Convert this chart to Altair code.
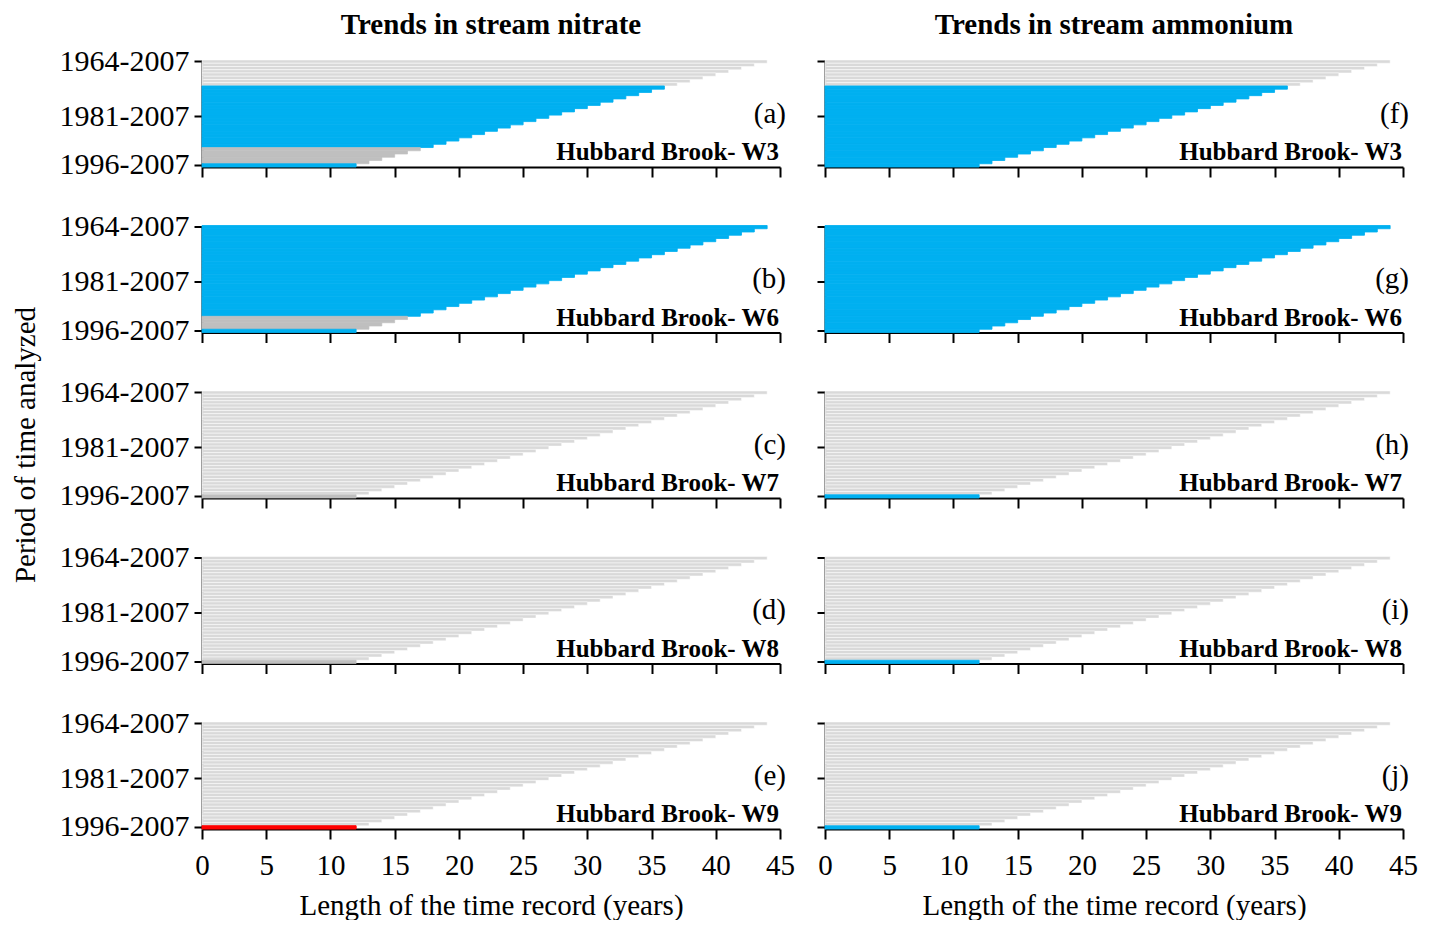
import altair as alt
import pandas as pd

# ---------------- data ----------------
start_years = [1964, 1965, 1966, 1967, 1968, 1969, 1970, 1971, 1972, 1973, 1974,
               1975, 1976, 1977, 1978, 1979, 1980, 1981, 1982, 1983, 1984, 1985,
               1986, 1987, 1988, 1989, 1990, 1991, 1992, 1993, 1994, 1995, 1996]
record_lengths = [44, 43, 42, 41, 40, 39, 38, 37, 36, 35, 34,
                  33, 32, 31, 30, 29, 28, 27, 26, 25, 24, 23,
                  22, 21, 20, 19, 18, 17, 16, 15, 14, 13, 12]
periods = [f"{y}-2007" for y in start_years]
ytick_periods = ["1964-2007", "1981-2007", "1996-2007"]
x_ticks = [0, 5, 10, 15, 20, 25, 30, 35, 40, 45]

# trend class for each period (top = 1964-2007 ... bottom = 1996-2007)
# L = no trend (light grey), D = no trend (dark grey), B = decreasing (blue), R = increasing (red)
code_domain = ["L", "D", "B", "R"]
fill_colors = ["#D9D9D9", "#BFBFBF", "#00B0F0", "#FF0000"]
stroke_colors = ["#FFFFFF", "#BFBFBF", "#00B0F0", "#FF0000"]
stroke_widths = [0.5, 1.0, 1.0, 1.0]

nitrate_codes = [
    "LLLLLLLL" "BBBBBBBBBBBBBBBBBBB" "DDDDD" "B",          # W3 (a)
    "BBBBBBBBBBBBBBBBBBBBBBBBBBBB" "DDDD" "B",             # W6 (b)
    "LLLLLLLL" "LLLLLLLL" "LLLLLLLL" "LLLLLLLL" "D",        # W7 (c)
    "LLLLLLLL" "LLLLLLLL" "LLLLLLLL" "LLLLLLLL" "D",        # W8 (d)
    "LLLLLLLL" "LLLLLLLL" "LLLLLLLL" "LLLLLLLL" "R",        # W9 (e)
]
ammonium_codes = [
    "LLLLLLLL" "BBBBBBBBBBBBBBBBBBBBBBBBB",                 # W3 (f)
    "BBBBBBBBBBBBBBBBBBBBBBBBBBBBBBBBB",                    # W6 (g)
    "LLLLLLLL" "LLLLLLLL" "LLLLLLLL" "LLLLLLLL" "B",        # W7 (h)
    "LLLLLLLL" "LLLLLLLL" "LLLLLLLL" "LLLLLLLL" "B",        # W8 (i)
    "LLLLLLLL" "LLLLLLLL" "LLLLLLLL" "LLLLLLLL" "B",        # W9 (j)
]
sites = ["Hubbard Brook- W3", "Hubbard Brook- W6", "Hubbard Brook- W7",
         "Hubbard Brook- W8", "Hubbard Brook- W9"]
nitrate_letters = ["(a)", "(b)", "(c)", "(d)", "(e)"]
ammonium_letters = ["(f)", "(g)", "(h)", "(i)", "(j)"]
column_titles = ["Trends in stream nitrate", "Trends in stream ammonium"]

SERIF = "Liberation Serif"
PW, PH = 578, 107


def make_panel(col, row, codes, letter, site):
    assert len(codes) == len(periods)
    df = pd.DataFrame({"period": periods, "length": record_lengths, "code": list(codes)})
    left = col == 0
    bottom = row == 4

    yaxis = dict(values=ytick_periods, labels=left, ticks=True, tickSize=8, tickWidth=2,
                 tickColor="black", domain=True, domainColor="black", domainWidth=2,
                 labelFontSize=30, labelPadding=5, labelColor="black", grid=False,
                 labelFont=SERIF)
    if left and row == 2:
        yaxis.update(title="Period of time analyzed", titleFontSize=29, titlePadding=19,
                     titleFontWeight="normal", titleColor="black", titleFont=SERIF)
    else:
        yaxis["title"] = None

    xaxis = dict(values=x_ticks, labels=bottom, ticks=True, tickSize=10, tickWidth=2,
                 tickColor="black", domain=True, domainColor="black", domainWidth=2,
                 labelFontSize=29, labelPadding=12, labelColor="black", grid=False,
                 labelFont=SERIF, labelFlush=False)
    if bottom:
        xaxis.update(title="Length of the time record (years)", titleFontSize=29,
                     titlePadding=11, titleFontWeight="normal", titleColor="black",
                     titleFont=SERIF)
    else:
        xaxis["title"] = None

    x_enc = alt.X("length:Q", scale=alt.Scale(domain=[0, 45], nice=False, zero=True),
                  axis=alt.Axis(**xaxis))
    y_enc = alt.Y("period:N", sort=periods,
                  scale=alt.Scale(domain=periods, paddingInner=0, paddingOuter=0),
                  axis=alt.Axis(**yaxis))

    bars = alt.Chart(df).mark_bar().encode(
        x=x_enc,
        y=y_enc,
        color=alt.Color("code:N", scale=alt.Scale(domain=code_domain, range=fill_colors), legend=None),
        stroke=alt.Stroke("code:N", scale=alt.Scale(domain=code_domain, range=stroke_colors), legend=None),
        strokeWidth=alt.StrokeWidth("code:N", scale=alt.Scale(domain=code_domain, range=stroke_widths), legend=None),
    )

    letter_df = pd.DataFrame({"label": [letter], "length": [45], "period": [periods[16]]})
    letter_txt = alt.Chart(letter_df).mark_text(
        align="right", baseline="middle", dx=6, font=SERIF, fontSize=29, color="black"
    ).encode(x=x_enc, y=y_enc, text="label:N")

    site_df = pd.DataFrame({"label": [site], "length": [45], "period": [periods[28]]})
    site_txt = alt.Chart(site_df).mark_text(
        align="right", baseline="middle", dx=-1, font=SERIF, fontSize=25,
        fontWeight="bold", color="black"
    ).encode(x=x_enc, y=y_enc, text="label:N")

    layers = [bars, letter_txt, site_txt]
    if row == 0:
        title_df = pd.DataFrame({"label": [column_titles[col]], "length": [22.5]})
        title_txt = alt.Chart(title_df).mark_text(
            align="center", baseline="middle", font=SERIF, fontSize=29,
            fontWeight="bold", color="black"
        ).encode(x=x_enc, y=alt.value(-35), text="label:N")
        layers.append(title_txt)
    return alt.layer(*layers).properties(width=PW, height=PH)


panels = []
for r in range(5):
    panels.append(make_panel(0, r, nitrate_codes[r], nitrate_letters[r], sites[r]))
    panels.append(make_panel(1, r, ammonium_codes[r], ammonium_letters[r], sites[r]))

chart = alt.concat(*panels, columns=2, spacing={"row": 58.5, "column": 45},
                   bounds="flush").properties(
    padding={"left": 3, "top": 3, "right": 0, "bottom": 0}
).configure_view(strokeWidth=0)

chart.save("out.html", embed_options={"renderer": "svg", "actions": False})
